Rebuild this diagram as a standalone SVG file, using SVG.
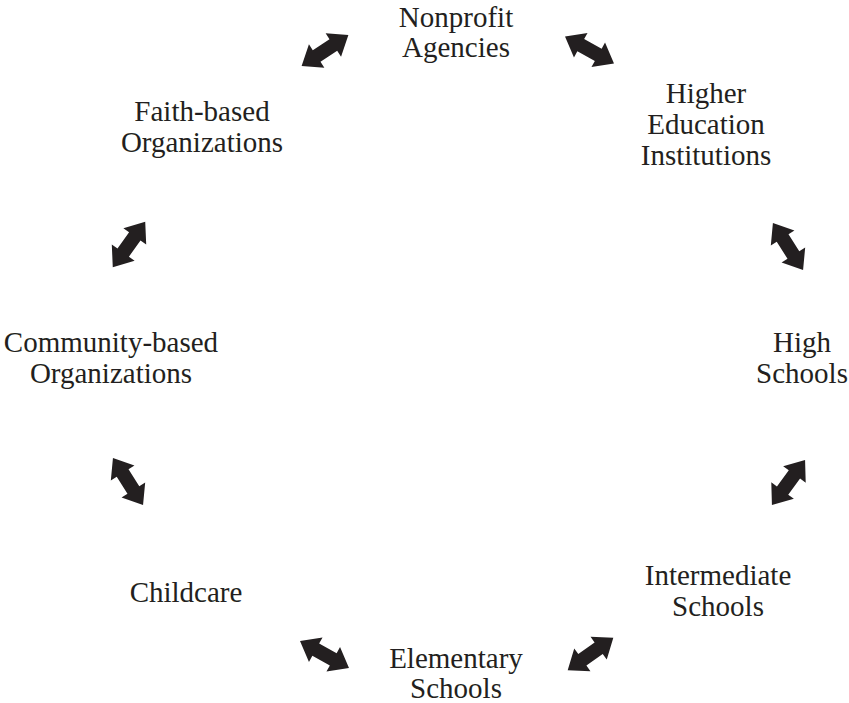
<svg xmlns="http://www.w3.org/2000/svg" width="849" height="703" viewBox="0 0 849 703">
  <style>
    .lbl { font-family: "Liberation Serif", "Times New Roman", serif; font-size: 29px; fill: #231f20; text-anchor: middle; }
    .arr { fill: #231f20; }
  </style>
  <defs>
    <!-- double-headed block arrow, 56 long, centred on the origin, pointing along x -->
    <polygon id="dbl" class="arr" points="-28,0 -10,-14 -10,-7 10,-7 10,-14 28,0 10,14 10,7 -10,7 -10,14"/>
  </defs>

  <rect width="849" height="703" fill="#ffffff"/>

  <g id="connectors">
    <use href="#dbl" transform="translate(325,50.5) rotate(-33.4)"/>
    <use href="#dbl" transform="translate(589.5,50) rotate(29)"/>
    <use href="#dbl" transform="translate(788,246.5) rotate(57.4)"/>
    <use href="#dbl" transform="translate(788.5,482.5) rotate(-53.7)"/>
    <use href="#dbl" transform="translate(590.5,654) rotate(-35.4)"/>
    <use href="#dbl" transform="translate(324.5,654.5) rotate(29)"/>
    <use href="#dbl" transform="translate(128,481.5) rotate(57.5)"/>
    <use href="#dbl" transform="translate(129,244.5) rotate(-54.6)"/>
  </g>

  <g id="nonprofit">
    <text class="lbl" x="456" y="27">Nonprofit</text>
    <text class="lbl" x="456" y="57">Agencies</text>
  </g>
  <g id="higher-ed">
    <text class="lbl" x="706" y="103">Higher</text>
    <text class="lbl" x="706" y="134">Education</text>
    <text class="lbl" x="706" y="165">Institutions</text>
  </g>
  <g id="high-schools">
    <text class="lbl" x="802" y="352">High</text>
    <text class="lbl" x="802" y="383">Schools</text>
  </g>
  <g id="intermediate">
    <text class="lbl" x="718" y="585">Intermediate</text>
    <text class="lbl" x="718" y="616">Schools</text>
  </g>
  <g id="elementary">
    <text class="lbl" x="456" y="668">Elementary</text>
    <text class="lbl" x="456" y="698">Schools</text>
  </g>
  <g id="childcare">
    <text class="lbl" x="186" y="602">Childcare</text>
  </g>
  <g id="community">
    <text class="lbl" x="111" y="352">Community-based</text>
    <text class="lbl" x="111" y="383">Organizations</text>
  </g>
  <g id="faith">
    <text class="lbl" x="202" y="121">Faith-based</text>
    <text class="lbl" x="202" y="152">Organizations</text>
  </g>
</svg>
